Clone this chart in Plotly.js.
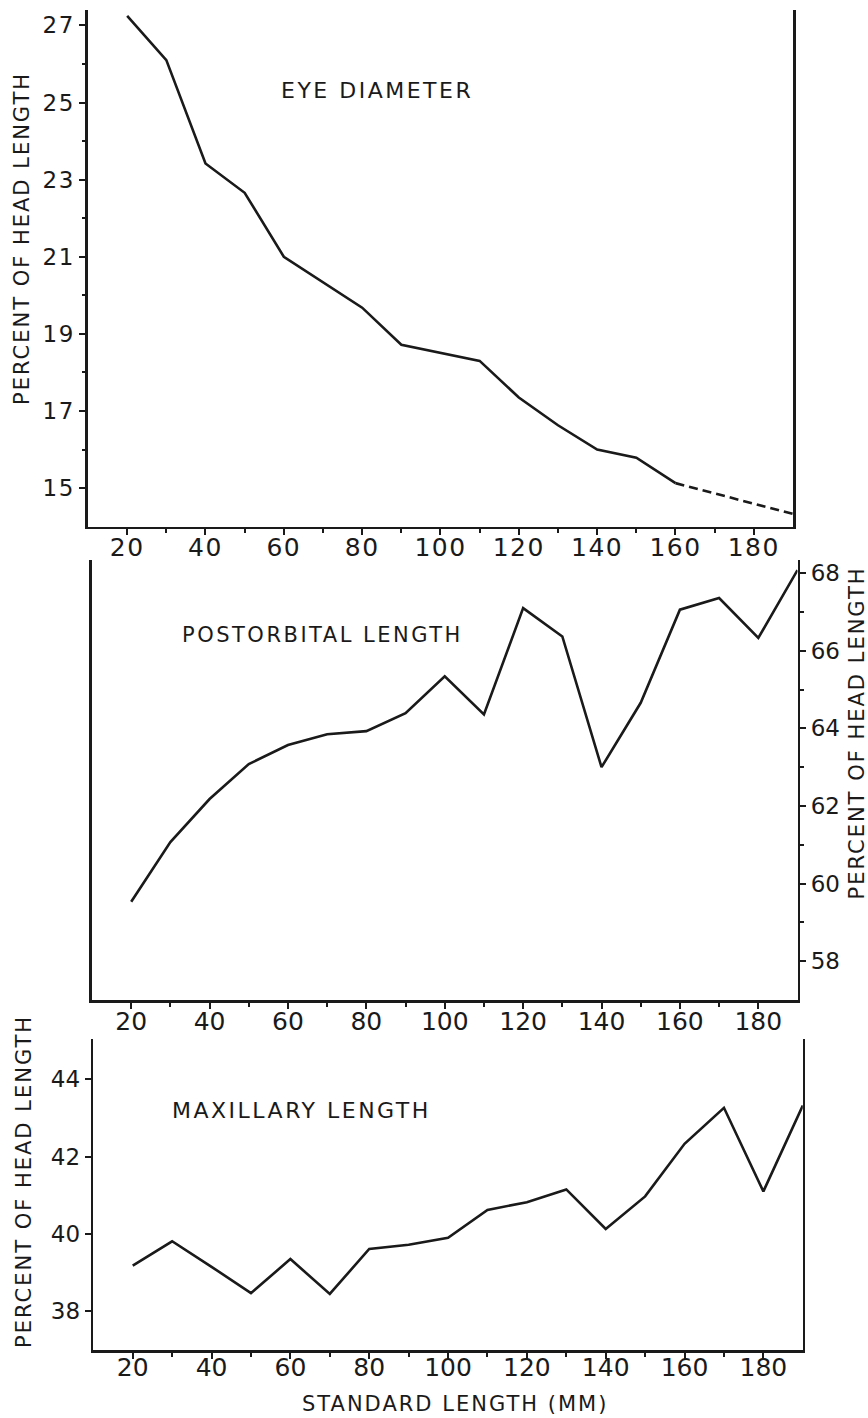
<!DOCTYPE html>
<html>
<head>
<meta charset="utf-8">
<script src="https://cdn.plot.ly/plotly-3.0.1.min.js"></script>
<style>
  body { margin: 0; background: #fff; }
  #chart { width: 868px; height: 1418px; }
  .xtick text, .ytick text { letter-spacing: 1.5px; }
  .annotation-text { letter-spacing: 2.5px; }
</style>
</head>
<body>
<div id="chart"></div>
<script>
// Standard length (mm)
const standardLength = [20, 30, 40, 50, 60, 70, 80, 90, 100, 110, 120, 130, 140, 150, 160, 170, 180, 190];

// Eye diameter, % of head length (solid part 20-160, dashed part 160-190)
const eyeX = [20, 30, 40, 50, 60, 70, 80, 90, 100, 110, 120, 130, 140, 150, 160];
const eyeDiameter = [27.25, 26.1, 23.42, 22.66, 21.0, 20.33, 19.68, 18.72, 18.51, 18.3, 17.35, 16.63, 16.0, 15.79, 15.13];
const eyeDashX = [160, 170, 180, 190];
const eyeDashed = [15.13, 14.86, 14.58, 14.33];

// Postorbital length, % of head length
const postorbital = [59.53, 61.07, 62.18, 63.08, 63.57, 63.85, 63.93, 64.39, 65.34, 64.36, 67.1, 66.37, 63.0, 64.66, 67.06, 67.36, 66.33, 68.08];

// Maxillary length, % of head length
const maxillary = [39.18, 39.81, 39.15, 38.47, 39.35, 38.45, 39.61, 39.72, 39.9, 40.62, 40.82, 41.15, 40.13, 40.97, 42.33, 43.26, 41.1, 43.32];

// Tick labels
const xMajor = [20, 40, 60, 80, 100, 120, 140, 160, 180];
const xMinor = [30, 50, 70, 90, 110, 130, 150, 170];
const eyeTicks = [15, 17, 19, 21, 23, 25, 27];
const eyeMinor = [16, 18, 20, 22, 24, 26];
const postTicks = [58, 60, 62, 64, 66, 68];
const postMinor = [59, 61, 63, 65, 67];
const maxTicks = [38, 40, 42, 44];

// Text
const panelLabels = ["EYE DIAMETER", "POSTORBITAL LENGTH", "MAXILLARY LENGTH"];
const yTitle = "PERCENT OF HEAD LENGTH";
const xTitle = "STANDARD LENGTH (MM)";

const INK = '#1a1a1a';
const FONT = 'DejaVu Sans, Liberation Sans, sans-serif';

const lineStyle = { color: INK, width: 2.6 };

const traces = [
  { x: eyeX, y: eyeDiameter, type: 'scatter', mode: 'lines', line: lineStyle, xaxis: 'x', yaxis: 'y' },
  { x: eyeDashX, y: eyeDashed, type: 'scatter', mode: 'lines', line: Object.assign({}, lineStyle, { dash: '9px,5px' }), xaxis: 'x', yaxis: 'y' },
  { x: standardLength, y: postorbital, type: 'scatter', mode: 'lines', line: lineStyle, xaxis: 'x2', yaxis: 'y2' },
  { x: standardLength, y: maxillary, type: 'scatter', mode: 'lines', line: lineStyle, xaxis: 'x3', yaxis: 'y3' }
];

function xAxis(domain, anchor, standoff) {
  return {
    domain: domain, anchor: anchor, range: [10, 190],
    showline: true, linewidth: 2.6, linecolor: INK, mirror: false,
    ticks: 'outside', ticklen: 6, tickwidth: 2, tickcolor: INK,
    tickmode: 'array', tickvals: xMajor, ticktext: xMajor.map(String),
    ticklabelstandoff: standoff,
    minor: { tickmode: 'array', tickvals: xMinor, ticks: 'outside', ticklen: 4, tickwidth: 2, tickcolor: INK, showgrid: false },
    showgrid: false, zeroline: false,
    tickfont: { family: FONT, size: 25, color: INK }
  };
}
function yAxis(domain, anchor, range, major, minor, side) {
  const ax = {
    domain: domain, anchor: anchor, range: range, side: side,
    showline: true, linewidth: 2.6, linecolor: INK, mirror: true,
    ticks: 'outside', ticklen: 6, tickwidth: 2, tickcolor: INK,
    tickmode: 'array', tickvals: major, ticktext: major.map(String),
    showgrid: false, zeroline: false,
    tickfont: { family: FONT, size: 23, color: INK }
  };
  if (minor) {
    ax.minor = { tickmode: 'array', tickvals: minor, ticks: 'outside', ticklen: 3.5, tickwidth: 2, tickcolor: INK, showgrid: false };
  }
  return ax;
}

function ann(text, x, y, size, angle) {
  return {
    text: text, x: x, y: y, xref: 'paper', yref: 'paper',
    xanchor: 'center', yanchor: 'middle', showarrow: false,
    textangle: angle || 0,
    font: { family: FONT, size: size, color: INK }
  };
}

const layout = {
  width: 868, height: 1418,
  margin: { l: 0, r: 0, t: 0, b: 0 },
  paper_bgcolor: '#fff', plot_bgcolor: '#fff',
  showlegend: false,
  xaxis: xAxis([0.10138, 0.91359], 'y', -9),
  yaxis: yAxis([0.62856, 0.99295], 'x', [14, 27.4], eyeTicks, eyeMinor, 'left'),
  xaxis2: xAxis([0.10599, 0.91878], 'y2', -9),
  yaxis2: yAxis([0.29478, 0.60508], 'x2', [57, 68.34], postTicks, postMinor, 'right'),
  xaxis3: xAxis([0.10749, 0.92488], 'y3', -13),
  yaxis3: yAxis([0.04795, 0.26707], 'x3', [37, 45.03], maxTicks, null, 'left'),
  annotations: [
    ann(panelLabels[0], 0.4349, 0.93618, 22),
    ann(panelLabels[1], 0.37154, 0.55219, 21),
    ann(panelLabels[2], 0.34724, 0.21671, 22),
    ann(yTitle, 0.0259, 0.83216, 21, -90),
    ann(yTitle, 0.9879, 0.48343, 21, -90),
    ann(yTitle, 0.0276, 0.16678, 21, -90),
    ann(xTitle, 0.5242, 0.00987, 21)
  ]
};

Plotly.newPlot('chart', traces, layout, { staticPlot: true, displayModeBar: false }).then(function () {
  // titles: slightly tighter letter spacing than the panel labels
  document.querySelectorAll('#chart g.annotation').forEach(function (g) {
    const idx = +g.getAttribute('data-index');
    const t = g.querySelector('text.annotation-text');
    if (t && idx >= 3) t.style.letterSpacing = '2px';
  });
});
</script>
</body>
</html>
